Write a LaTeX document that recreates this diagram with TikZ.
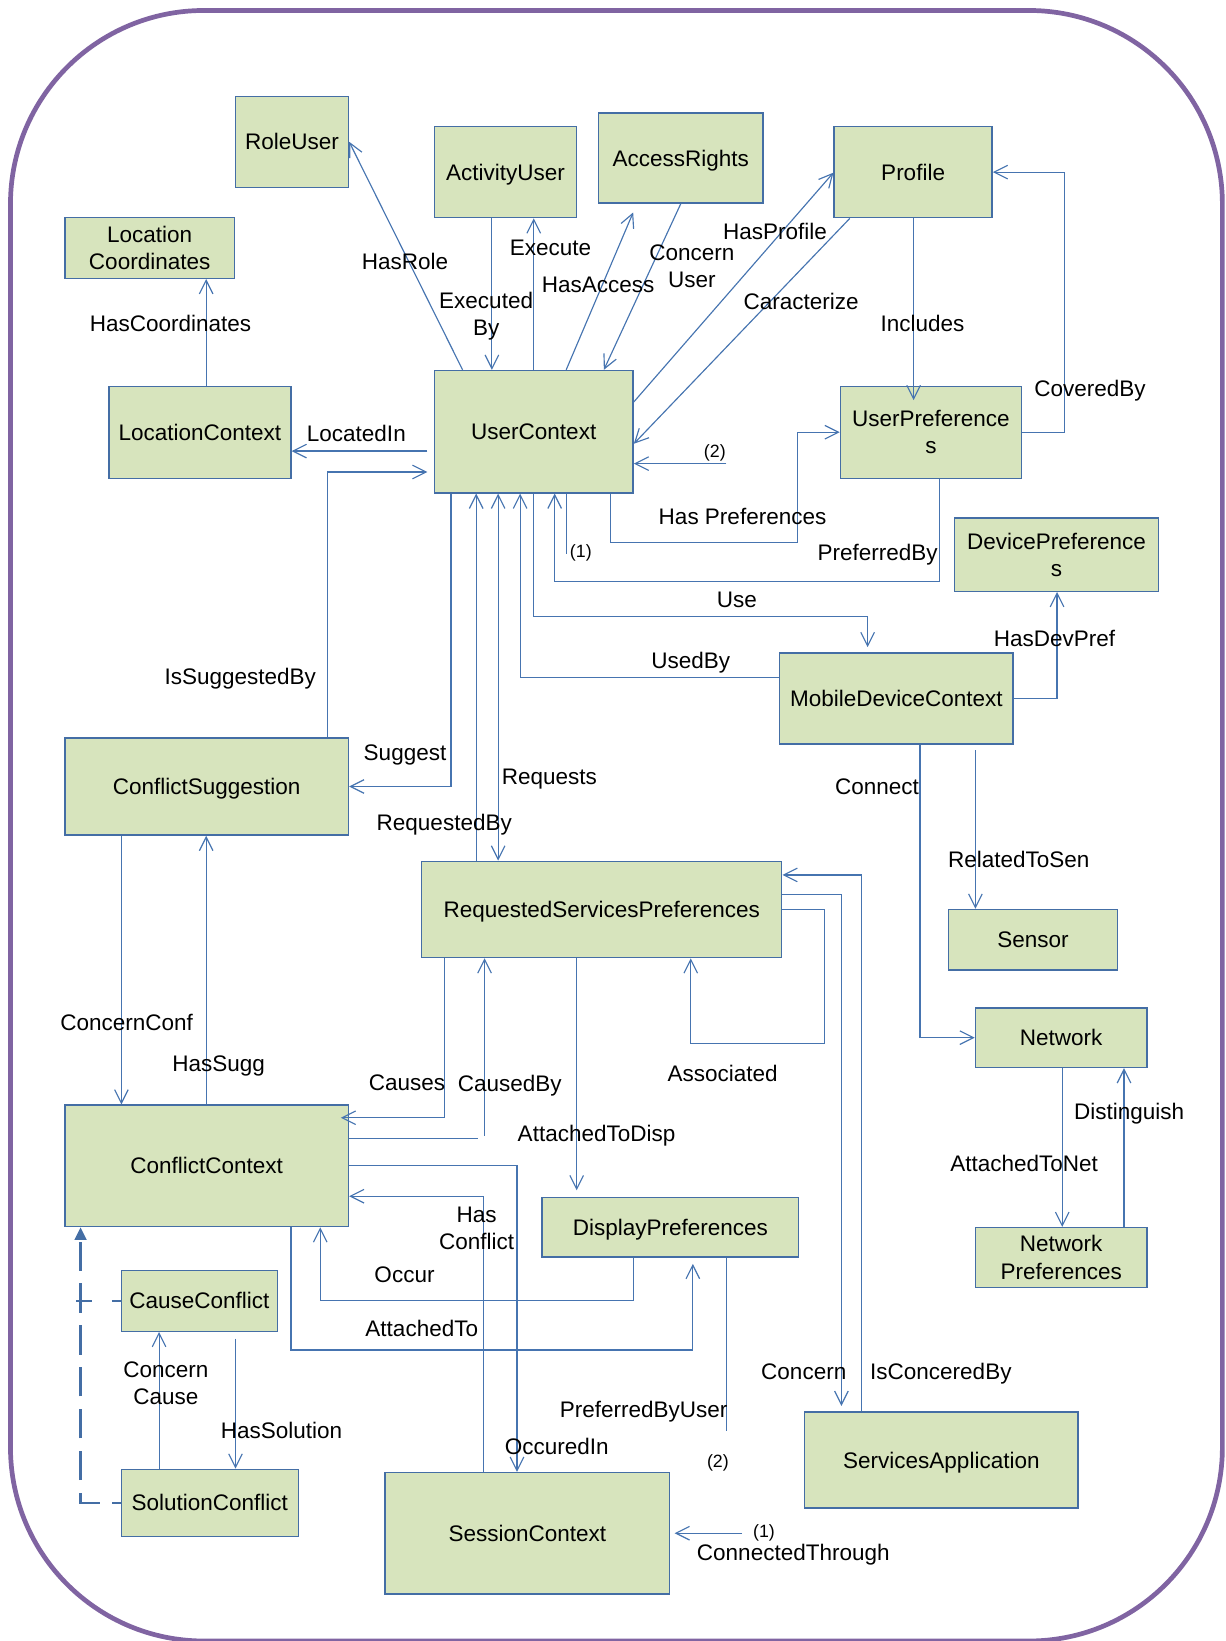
\documentclass[tikz,border=0pt]{standalone}
\usepackage{fontspec}
\setmainfont{Liberation Sans}
\usetikzlibrary{arrows.meta,calc}

\definecolor{framepurple}{RGB}{128,100,162}
\definecolor{boxfill}{RGB}{215,228,189}
\definecolor{boxline}{RGB}{68,110,165}
\definecolor{linkblue}{RGB}{70,116,176}

\newcommand\labelfont{\fontsize{21.5}{26}\selectfont}
\newcommand\numfont{\fontsize{17}{20}\selectfont}

\begin{document}
\begin{tikzpicture}[x=1pt,y=-1pt,
  entity/.style={draw=boxline, fill=boxfill, line width=1.3pt, inner sep=0pt,
                 font=\labelfont, text height=15.5pt, text depth=0pt},
  entity2/.style={draw=boxline, fill=boxfill, line width=1.3pt, inner sep=0pt,
                  font=\labelfont, align=center},
  link/.style={draw=linkblue, line width=1.1pt},
  arr/.style={link, -{Straight Barb[length=13pt,width=13pt]}},
  darr/.style={link, {Straight Barb[length=13pt,width=13pt]}-{Straight Barb[length=13pt,width=13pt]}},
  rel/.style={font=\labelfont, inner sep=0pt, text height=15.5pt, text depth=0pt},
  rel2/.style={font=\labelfont, inner sep=0pt, align=center},
  num/.style={font=\numfont, inner sep=0pt},
  inherit/.style={draw=boxline, line width=2.6pt}
]
\useasboundingbox (0,0) rectangle (1171,1568);

% outer frame (its lower edge runs along the page border)
\draw[framepurple, line width=4.5pt, rounded corners=185pt] (10,10) rectangle (1168,1568);

% ---------- entities ----------
\node[entity, minimum width=108pt, minimum height=87pt] (role) at (279,135.5) {RoleUser};
\node[entity, minimum width=136pt, minimum height=87pt] (act) at (483,164.5) {ActivityUser};
\node[entity, minimum width=157pt, minimum height=86pt] (acc) at (650.5,151) {AccessRights};
\node[entity, minimum width=151pt, minimum height=87pt] (prof) at (872.5,164.5) {Profile};
\node[entity2, minimum width=162pt, minimum height=58pt] (loccoord) at (143,237) {Location\\Coordinates};
\node[entity, minimum width=174pt, minimum height=88pt] (loc) at (191,413) {LocationContext};
\node[entity, minimum width=190pt, minimum height=117pt] (uc) at (510,412.5) {UserContext};
\node[entity2, minimum width=173pt, minimum height=88pt] (upref) at (889.5,413) {UserPreference\\s};
\node[entity2, minimum width=195pt, minimum height=70pt] (devpref) at (1009.5,530) {DevicePreference\\s};
\node[entity, minimum width=223pt, minimum height=87pt] (mdc) at (856.5,667.5) {MobileDeviceContext};
\node[entity, minimum width=271pt, minimum height=93pt] (csug) at (197.5,751.5) {ConflictSuggestion};
\node[entity, minimum width=344pt, minimum height=92pt] (rsp) at (575,869) {RequestedServicesPreferences};
\node[entity, minimum width=162pt, minimum height=58pt] (sensor) at (987,898) {Sensor};
\node[entity, minimum width=164pt, minimum height=57pt] (net) at (1014,991.5) {Network};
\node[entity, minimum width=271pt, minimum height=116pt] (cctx) at (197.5,1114) {ConflictContext};
\node[entity, minimum width=245pt, minimum height=57pt] (disp) at (640.5,1172.5) {DisplayPreferences};
\node[entity2, minimum width=164pt, minimum height=57pt] (netpref) at (1014,1201.5) {Network\\Preferences};
\node[entity, minimum width=149pt, minimum height=58pt] (causec) at (190.5,1243) {CauseConflict};
\node[entity, minimum width=169pt, minimum height=64pt] (solc) at (200.5,1436) {SolutionConflict};
\node[entity, minimum width=272pt, minimum height=116pt] (sess) at (504,1465) {SessionContext};
\node[entity, minimum width=261pt, minimum height=92pt] (servapp) at (899.5,1395) {ServicesApplication};

% ---------- free ends of open connectors ----------
\coordinate (accTip) at (605,203);
\coordinate (twoA) at (694,443);
\coordinate (oneA) at (541,529);
\coordinate (cbEnd) at (457,1088);
\coordinate (cbStart) at (463,1085);
\coordinate (pbuEnd) at (694,1367);
\coordinate (ctStart) at (709,1465);
\coordinate (rtsStart) at (932,717);
\coordinate (hsStart) at (225,1279);
\coordinate (ccTick) at (73,1243);

% ---------- connectors around UserContext (top) ----------
\draw[arr] (uc.north -| 442,0) -- (role.east);
\draw[arr] (act.south -| 470,0) -- (uc.north -| 470,0);
\draw[arr] (uc.north -| 510,0) -- (act.south -| 510,0);
\draw[arr] (uc.north -| 541,0) -- (accTip);
\draw[arr] (acc.south) -- (uc.north -| 577,0);
\draw[arr] (uc.east |- 0,384) -- (prof.west |- 0,165);
\draw[arr] (prof.south -| 812,0) -- (uc.east |- 0,424);
\draw[arr] (prof.south -| 873,0) -- ($(upref.north -| 873,0)+(0,14)$);
\draw[arr] (upref.east) -- (upref.east -| 1017,0) |- (prof.east);
\draw[arr] (twoA) -- (uc.east |- twoA);

% ---------- connectors around UserContext (bottom / left) ----------
\draw[arr] (uc.south -| 583,0) |- (762,518) |- (upref.west);
\draw[arr] (upref.south -| 898,0) |- (530,556) -- (uc.south -| 530,0);
\draw[link] (uc.south -| oneA) -- (oneA);
\draw[arr, shorten >=5pt] (uc.south -| 510,0) |- (829,589) -- (mdc.north -| 829,0);
\draw[arr] (mdc.west |- 0,647) -| (uc.south -| 497,0);
\draw[darr] (uc.south -| 476,0) -- (rsp.north -| 476,0);
\draw[arr] (rsp.north -| 455,0) -- (uc.south -| 455,0);
\draw[arr] (uc.south -| 431,0) |- (csug.east);
\draw[arr, shorten >=6pt] (csug.north -| 313,0) |- (uc.west |- 0,451);
\draw[arr, shorten <=6pt] (uc.west |- 0,431) -- (loc.east |- 0,431);
\draw[arr] (loc.north -| 197,0) -- (loccoord.south -| 197,0);

% ---------- conflict suggestion ----------
\draw[arr] (csug.south -| 116,0) -- (cctx.north -| 116,0);
\draw[arr] (cctx.north -| 197,0) -- (csug.south -| 197,0);

% ---------- requested services preferences ----------
\draw[arr] (rsp.south -| 425,0) |- ($(cctx.east |- 0,1068)+(-8,0)$);
\draw[link] (cctx.east |- cbEnd) -- (cbEnd);
\draw[arr] (cbStart) -- (rsp.south -| cbStart);
\draw[arr, shorten >=6pt] (rsp.south -| 551,0) -- (disp.north -| 551,0);
\draw[arr] (rsp.east |- 0,869) -| (788,997) -| (rsp.south -| 660,0);
\draw[arr, shorten >=5pt] (rsp.east |- 0,855) -| (servapp.north -| 804,0);
\draw[arr] (servapp.north -| 823,0) |- (rsp.east |- 0,836);

% ---------- conflict context ----------
\draw[arr] (sess.north -| 462,0) |- (cctx.east |- 0,1143);
\draw[arr] (cctx.east |- 0,1114) -| (sess.north -| 494,0);
\draw[arr] (disp.south -| 605,0) |- (306,1243) -- (cctx.south -| 306,0);
\draw[arr, shorten >=6pt] (cctx.south -| 278,0) |- (662,1290) -- (disp.south -| 662,0);
\draw[link] (disp.south -| pbuEnd) -- (pbuEnd);
\draw[arr, shorten >=4pt] (ctStart) -- (sess.east |- ctStart);

% ---------- mobile device / network ----------
\draw[arr] (mdc.east) -| (devpref.south -| 1010,0);
\draw[arr] (mdc.south -| 879,0) |- (net.west);
\draw[arr] (rtsStart) -- (sensor.north -| rtsStart);
\draw[arr] (net.south -| 1015,0) -- (netpref.north -| 1015,0);
\draw[arr] (netpref.north -| 1074,0) -- (net.south -| 1074,0);

% ---------- cause / solution ----------
\draw[arr] (solc.north -| 152,0) -- (causec.south -| 152,0);
\draw[arr] (hsStart) -- (solc.north -| hsStart);
\draw[inherit, dash pattern=on 28pt off 12pt, dash phase=20pt,
      -{Triangle[length=12pt,width=11pt]}] (solc.west) -| (cctx.south -| 77,0);
\draw[inherit, dash pattern=on 15pt off 19pt on 20pt off 10pt] (ccTick) -- (causec.west);

% ---------- relation labels ----------
\node[rel] at (387,250) {HasRole};
\node[rel2] at (464.5,302) {Executed\\By};
\node[rel] at (526,236) {Execute};
\node[rel] at (571.5,272) {HasAccess};
\node[rel2] at (661,254.5) {Concern\\User};
\node[rel] at (740.5,221) {HasProfile};
\node[rel] at (765.5,288) {Caracterize};
\node[rel] at (881.5,309) {Includes};
\node[rel] at (1041.5,371) {CoveredBy};
\node[num] at (683,433) {(2)};
\node[rel] at (340.5,414) {LocatedIn};
\node[rel] at (163,309) {HasCoordinates};
\node[rel] at (709.5,493) {Has Preferences};
\node[num] at (555,528) {(1)};
\node[rel] at (838.5,528) {PreferredBy};
\node[rel] at (704,573) {Use};
\node[rel] at (660,631) {UsedBy};
\node[rel] at (1007.5,610) {HasDevPref};
\node[rel] at (229.5,646) {IsSuggestedBy};
\node[rel] at (387,719) {Suggest};
\node[rel] at (525,742) {Requests};
\node[rel] at (424.5,786) {RequestedBy};
\node[rel] at (838,751) {Connect};
\node[rel] at (973.5,821) {RelatedToSen};
\node[rel] at (121,977) {ConcernConf};
\node[rel] at (209,1016) {HasSugg};
\node[rel] at (389,1034) {Causes};
\node[rel] at (487,1035) {CausedBy};
\node[rel] at (690.5,1026) {Associated};
\node[rel] at (570,1083) {AttachedToDisp};
\node[rel] at (1079,1062) {Distinguish};
\node[rel] at (978.5,1112) {AttachedToNet};
\node[rel2] at (455.5,1174) {Has\\Conflict};
\node[rel] at (386.5,1218) {Occur};
\node[rel] at (403,1269) {AttachedTo};
\node[rel2] at (158.5,1322) {Concern\\Cause};
\node[rel] at (269,1367) {HasSolution};
\node[rel] at (768,1310) {Concern};
\node[rel] at (899,1310) {IsConceredBy};
\node[rel] at (615,1347) {PreferredByUser};
\node[rel] at (532,1382) {OccuredIn};
\node[num] at (686,1398) {(2)};
\node[num] at (730,1465) {(1)};
\node[rel] at (758,1483) {ConnectedThrough};

\end{tikzpicture}
\end{document}
